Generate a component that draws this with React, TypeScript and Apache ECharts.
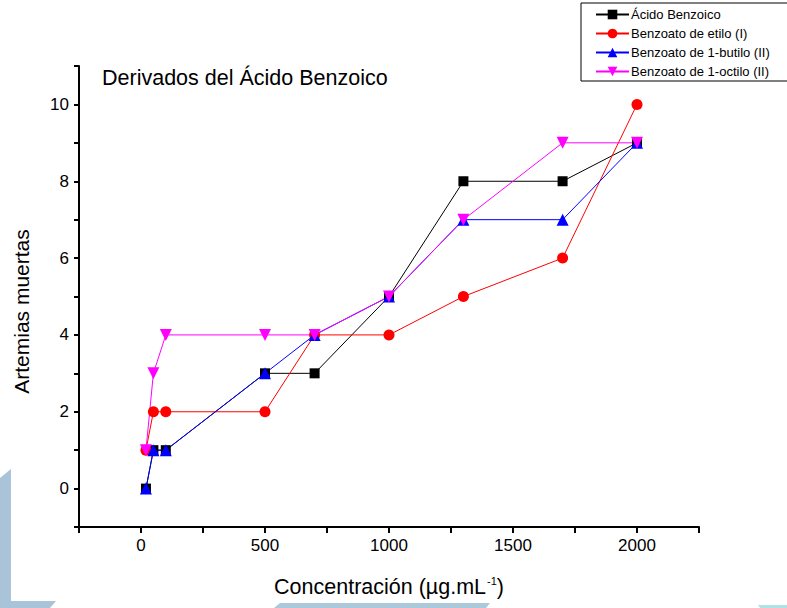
import React, { useEffect, useRef } from "react";
import * as echarts from "echarts";

const concentrations = [20, 50, 100, 500, 700, 1000, 1300, 1700, 2000];
const acidoBenzoico = [0, 1, 1, 3, 3, 5, 8, 8, 9];
const benzoatoEtilo = [1, 2, 2, 2, 4, 4, 5, 6, 10];
const benzoatoButilo = [0, 1, 1, 3, 4, 5, 7, 7, 9];
const benzoatoOctilo = [1, 3, 4, 4, 4, 5, 7, 9, 9];
const seriesNames = [
  "Ácido Benzoico",
  "Benzoato de etilo (I)",
  "Benzoato de 1-butilo (II)",
  "Benzoato de 1-octilo (II)",
];
const xLabelTicks = [0, 500, 1000, 1500, 2000];
const yLabelTicks = [0, 2, 4, 6, 8, 10];

const FONT = "Liberation Sans, Arial, sans-serif";

export default function App() {
  const ref = useRef<HTMLDivElement>(null);
  useEffect(() => {
    if (!ref.current) return;
    const chart = echarts.init(ref.current, undefined, { renderer: "svg" });
    const pts = (ys: number[]) => concentrations.map((x, i) => [x, ys[i]]);
    const mk = (
      name: string,
      ys: number[],
      color: string,
      symbol: string,
      size: number,
      rotate = 0
    ) => ({
      name,
      type: "line",
      data: pts(ys),
      symbol,
      symbolSize: size,
      symbolRotate: rotate,
      showAllSymbol: true,
      lineStyle: { color, width: 1 },
      itemStyle: { color },
      z: 3,
    });
    chart.setOption({
      animation: false,
      backgroundColor: "#ffffff",
      textStyle: { fontFamily: FONT },
      title: {
        text: "Derivados del Ácido Benzoico",
        left: 97,
        top: 62,
        textStyle: { fontSize: 21.5, fontWeight: "normal", color: "#000", fontFamily: FONT },
      },
      legend: {
        orient: "vertical",
        left: 581,
        top: 3,
        padding: [5, 18, 3, 14],
        itemGap: 6,
        itemWidth: 33,
        itemHeight: 12,
        borderColor: "#000",
        borderWidth: 1,
        borderRadius: 0,
        backgroundColor: "#fff",
        symbolRotate: "inherit",
        textStyle: { fontSize: 13, color: "#000", fontFamily: FONT, padding: [0, 0, 0, -3] },
        data: seriesNames,
      },
      grid: { left: 79, right: 88, top: 66, bottom: 81, containLabel: false },
      xAxis: {
        type: "value",
        min: -250,
        max: 2250,
        interval: 250,
        name: "{a|Concentración (µg.mL}{s|-1}{a|)}",
        nameLocation: "middle",
        nameGap: 48,
        nameTextStyle: {
          rich: {
            a: { fontSize: 21.5, color: "#000", fontFamily: FONT },
            s: { fontSize: 11, color: "#000", fontFamily: FONT, padding: [0, 0, 13, 1] },
          },
        },
        axisLine: { onZero: false, lineStyle: { color: "#000", width: 2 } },
        axisTick: { inside: false, length: 6, lineStyle: { color: "#000", width: 2 } },
        axisLabel: {
          fontSize: 17,
          color: "#000",
          margin: 10,
          fontFamily: FONT,
          formatter: (v: number) => (xLabelTicks.includes(v) ? String(v) : ""),
        },
        splitLine: { show: false },
      },
      yAxis: {
        type: "value",
        min: -1,
        max: 11,
        interval: 1,
        name: "Artemias muertas",
        nameLocation: "middle",
        nameGap: 47,
        nameTextStyle: { fontSize: 21, color: "#000", fontFamily: FONT, padding: [0, 30, 0, 0] },
        axisLine: { onZero: false, lineStyle: { color: "#000", width: 2 } },
        axisTick: { inside: false, length: 5, lineStyle: { color: "#000", width: 2 } },
        axisLabel: {
          fontSize: 17,
          color: "#000",
          margin: 10,
          fontFamily: FONT,
          formatter: (v: number) => (yLabelTicks.includes(v) ? String(v) : ""),
        },
        splitLine: { show: false },
      },
      graphic: [
        {
          type: "polygon",
          z: -10,
          shape: { points: [[0, 478], [11, 469], [11, 601], [56, 601], [50, 608], [0, 608]] },
          style: { fill: "#a9c3d9" },
          silent: true,
        },
        {
          type: "polygon",
          z: -10,
          shape: { points: [[280, 603], [490, 603], [486, 608], [274, 608]] },
          style: { fill: "#abc9da" },
          silent: true,
        },
        {
          type: "polygon",
          z: -10,
          shape: { points: [[758, 605], [787, 605], [787, 608], [760, 608]] },
          style: { fill: "#b3e0e5" },
          silent: true,
        },
      ],
      series: [
        mk(seriesNames[0], acidoBenzoico, "#000000", "rect", 10),
        mk(seriesNames[1], benzoatoEtilo, "#ff0000", "circle", 11),
        mk(seriesNames[2], benzoatoButilo, "#0000ff", "triangle", 12),
        mk(seriesNames[3], benzoatoOctilo, "#ff00ff", "triangle", 12, 180),
      ],
    });
    return () => chart.dispose();
  }, []);
  return <div ref={ref} style={{ width: 787, height: 608, position: "absolute", left: 0, top: 0 }} />;
}
